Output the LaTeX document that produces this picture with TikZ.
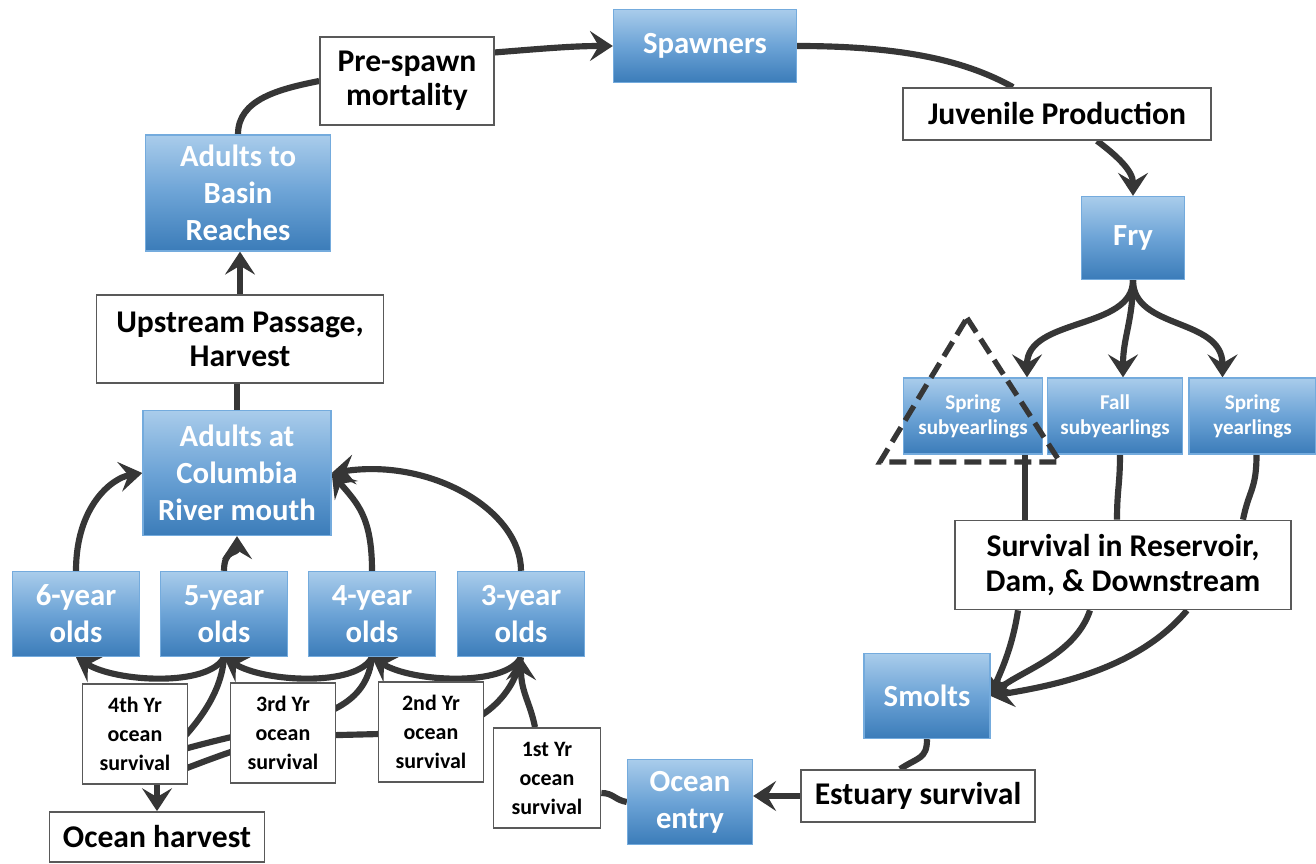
\documentclass[tikz,border=0pt]{standalone}
\usepackage{fontspec}
\setmainfont{Carlito}
\usetikzlibrary{arrows.meta,calc,backgrounds}
\definecolor{arrgray}{HTML}{363636}
\definecolor{boxtop}{HTML}{A9CCEB}
\definecolor{boxmid}{HTML}{6CA3D6}
\definecolor{boxbot}{HTML}{3B7CB9}
\definecolor{boxline}{HTML}{74ABDD}

\begin{document}
\begin{tikzpicture}[x=0.02cm,y=-0.02cm,
  stage/.style={draw=boxline,line width=0.8pt,top color=boxtop,bottom color=boxbot,middle color=boxmid,
    text=white,align=center,inner sep=0pt,font=\bfseries\fontsize{17.5}{21}\selectfont},
  smallstage/.style={stage,font=\bfseries\fontsize{12}{14.2}\selectfont},
  factor/.style={draw=gray!70!black,line width=1pt,fill=white,align=center,inner sep=0pt,
    font=\bfseries\fontsize{18}{19.5}\selectfont},
  smallfactor/.style={factor,font=\bfseries\fontsize{12.5}{16.5}\selectfont},
  link/.style={draw=arrgray,line width=3.5pt},
  flow/.style={link,-{Stealth[length=13pt,width=17pt,inset=5pt]}}]
\useasboundingbox (0,0) rectangle (1316,864);

% life stages
\node[stage,minimum width=3.66cm,minimum height=1.46cm] (spawn) at (705,46) {Spawners};
\node[stage,minimum width=3.7cm,minimum height=2.32cm] (basin) at (238,193) {Adults to\\Basin\\Reaches};
\node[stage,minimum width=2.06cm,minimum height=1.66cm] (fry) at (1133,238) {Fry};
\node[smallstage,minimum width=2.78cm,minimum height=1.52cm] (ssub) at (973,416) {Spring\\subyearlings};
\node[smallstage,minimum width=2.7cm,minimum height=1.52cm] (fsub) at (1115,416) {Fall\\subyearlings};
\node[smallstage,minimum width=2.54cm,minimum height=1.52cm] (syr) at (1252.5,416) {Spring\\yearlings};
\node[stage,minimum width=3.76cm,minimum height=2.5cm] (adm) at (237,473) {Adults at\\Columbia\\River mouth};
\node[stage,minimum width=2.54cm,minimum height=1.7cm] (age6) at (76,614) {6-year\\olds};
\node[stage,minimum width=2.54cm,minimum height=1.7cm] (age5) at (224,614) {5-year\\olds};
\node[stage,minimum width=2.54cm,minimum height=1.7cm] (age4) at (372,614) {4-year\\olds};
\node[stage,minimum width=2.54cm,minimum height=1.7cm] (age3) at (521,614) {3-year\\olds};
\node[stage,minimum width=2.52cm,minimum height=1.7cm] (smolts) at (927,696) {Smolts};
\node[stage,minimum width=2.5cm,minimum height=1.7cm] (ocean) at (690,802) {Ocean\\entry};

% survival factors
\node[factor,minimum width=3.48cm,minimum height=1.76cm] (pre) at (407,81) {Pre-spawn\\mortality};
\node[factor,minimum width=6.16cm,minimum height=1.04cm] (juv) at (1057,114) {Juvenile Production};
\node[factor,minimum width=5.74cm,minimum height=1.76cm] (ups) at (240,339) {Upstream Passage,\\Harvest};
\node[factor,minimum width=6.72cm,minimum height=1.78cm] (surv) at (1123,565) {Survival in Reservoir,\\Dam, \& Downstream};
\node[factor,minimum width=4.68cm,minimum height=1.04cm] (est) at (918,796) {Estuary survival};
\node[smallfactor,minimum width=2.1cm,minimum height=2cm] (oc4) at (135,734) {4th Yr\\ocean\\survival};
\node[smallfactor,minimum width=2.1cm,minimum height=2cm] (oc3) at (283,733) {3rd Yr\\ocean\\survival};
\node[smallfactor,minimum width=2.1cm,minimum height=2cm] (oc2) at (431,732) {2nd Yr\\ocean\\survival};
\node[smallfactor,minimum width=2.14cm,minimum height=2cm] (oc1) at (547,778) {1st Yr\\ocean\\survival};
\node[factor,minimum width=4.3cm,minimum height=1cm] (harv) at (157,837) {Ocean harvest};
\coordinate (hv5) at (160,762);
\coordinate (hv4) at (160,756);
\coordinate (hv3) at (160,778);

\begin{scope}[on background layer]
\fill[white] (0,0) rectangle (1316,864);
% freshwater
\draw[link] (basin.north) .. controls +(0,-35) and +(-40,8) .. (pre.west);
\draw[flow] (pre.18) .. controls +(50,-4) and +(-40,0) .. (spawn.west);
\draw[link] (spawn.east) .. controls +(110,0) and +(-45,-25) .. ($(juv.north)+(-44,0)$);
\draw[flow] ($(juv.south)+(40,0)$) .. controls +(20,15) and +(0,-25) .. (fry.north);
\draw[flow] (fry.south) .. controls +(0,50) and +(0,-60) .. ($(ssub.north)+(54,0)$);
\draw[flow] (fry.south) .. controls +(0,40) and +(0,-40) .. ($(fsub.north)+(8,0)$);
\draw[flow] (fry.south) .. controls +(0,50) and +(0,-60) .. ($(syr.north)+(-30,0)$);
\draw[link] ($(ssub.south)+(52,0)$) -- ($(surv.north)+(-98,0)$);
\draw[link] ($(fsub.south)+(5,0)$) .. controls +(0,30) and +(0,-30) .. ($(surv.north)+(-6,0)$);
\draw[link] ($(syr.south)+(4,0)$) .. controls +(0,35) and +(6,-30) .. ($(surv.north)+(120,0)$);
\draw[flow] ($(surv.south)+(-105,0)$) .. controls +(-6,40) and +(8,-20) .. (smolts.east);
\draw[flow] ($(surv.south)+(-33,0)$) .. controls +(-15,45) and +(30,-25) .. (smolts.east);
\draw[flow] ($(surv.south)+(64,0)$) .. controls +(-50,60) and +(60,-10) .. (smolts.east);
\draw[link] (smolts.south) .. controls +(0,20) and +(18,-12) .. ($(est.north)+(-18,0)$);
\draw[flow] (est.west) -- (est.west -| ocean.east);
% ocean
\draw[link] (ocean.west) .. controls +(-12,-2) and +(12,0) .. ($(oc1.east)+(0,15)$);
\draw[flow] ($(oc1.north)+(-12,0)$) .. controls +(-5,-25) and +(0,35) .. (age3.south);
\draw[flow] (age3.south) .. controls +(-15,30) and +(40,25) .. (age4.south);
\draw[flow] (age4.south) .. controls +(-15,30) and +(40,25) .. (age5.south);
\draw[flow] (age5.south) .. controls +(-15,30) and +(40,25) .. (age6.south);
\draw[link] (age5.south) .. controls +(-3,45) and +(25,-25) .. (hv5);
\draw[link] (age4.south) .. controls +(-5,45) and +(40,-12) .. (290,725) .. controls +(-45,8) and +(40,-12) .. (hv4);
\draw[link] (age3.south) .. controls +(-8,45) and +(50,0) .. (420,733) -- (300,736) .. controls +(-45,3) and +(40,-14) .. (hv3);
\draw[flow] (oc4.south -| harv.north) -- (harv.north);
% return
\draw[flow] (age6.north) .. controls +(0,-65) and +(-30,5) .. (adm.west);
\draw[flow] (age5.north) .. controls +(0,-22) and +(0,18) .. (adm.south);
\draw[flow] (age4.north) .. controls +(0,-55) and +(25,30) .. (adm.east);
\draw[flow] (age3.north) .. controls +(0,-60) and +(100,-15) .. (adm.east);
\draw[link] (adm.north) -- (adm.north |- ups.south);
\draw[flow] (ups.north) -- (ups.north |- basin.south);
\end{scope}

\draw[arrgray,line width=3pt,dash pattern=on 0.34cm off 0.16cm] (967,318) -- (1060,462) -- (880,462) -- cycle;
\end{tikzpicture}
\end{document}
